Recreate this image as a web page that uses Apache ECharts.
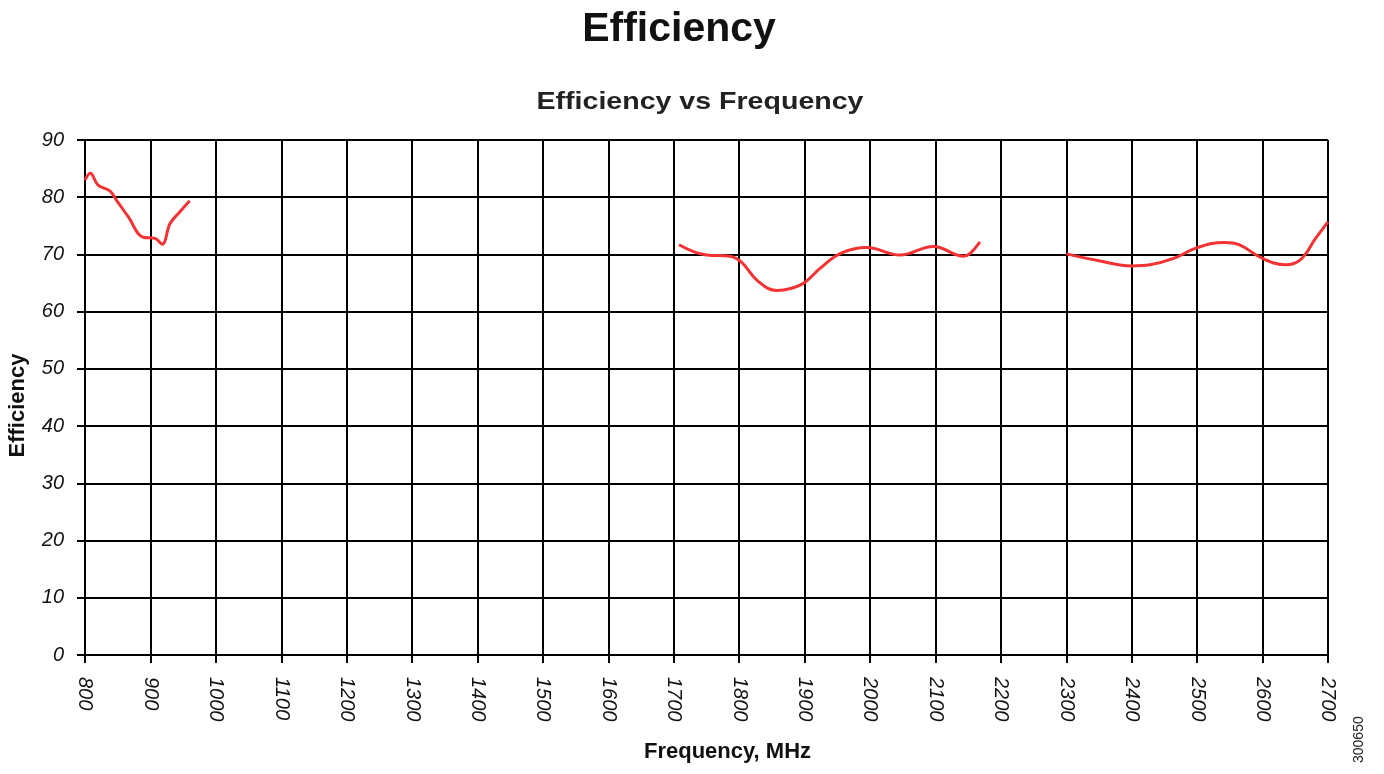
<!DOCTYPE html>
<html><head><meta charset="utf-8">
<script src="https://cdn.jsdelivr.net/npm/echarts@6/dist/echarts.min.js"></script>
<style>html,body{margin:0;padding:0;background:#fff}#c{width:1384px;height:774px}</style>
</head><body><div id="c"></div>
<script>
var title = "Efficiency";
var subtitle = "Efficiency vs Frequency";
var xName = "Frequency, MHz";
var yName = "Efficiency";
var docId = "300650";

var band1Freq = [800, 808, 820, 838, 848, 866, 889, 907, 918, 930, 943, 960];
var band1Eff  = [83.0, 84.2, 82.1, 81.1, 79.5, 76.6, 73.0, 72.8, 71.8, 75.4, 77.2, 79.4];

var band2Freq = [1708, 1730, 1750, 1786, 1803, 1829, 1857, 1880, 1900, 1924, 1955, 1995, 2046, 2097, 2143, 2153, 2168];
var band2Eff  = [71.7, 70.5, 69.9, 69.7, 68.7, 65.3, 63.7, 64.1, 65.1, 67.6, 70.2, 71.2, 69.9, 71.4, 69.7, 70.2, 72.2];

var band3Freq = [2300, 2350, 2400, 2428, 2464, 2500, 2541, 2564, 2600, 2635, 2658, 2681, 2700];
var band3Eff  = [70.1, 68.9, 68.0, 68.2, 69.3, 71.2, 72.1, 71.7, 69.3, 68.2, 69.1, 72.8, 75.7];

function pairs(xs, ys){ return xs.map(function(x,i){return [x, ys[i]];}); }

var lineStyle = {color:'#f33333', width:3};
function mk(xs, ys){
  return {type:'line', data:pairs(xs,ys), smooth:0.4, showSymbol:false, lineStyle:lineStyle, itemStyle:{color:'#f33333'}};
}

var chart = echarts.init(document.getElementById('c'));
chart.setOption({
  animation:false,
  backgroundColor:'#fff',
  grid:{left:85, right:56, top:140, bottom:119, show:false, outerBoundsMode:'none', containLabel:false},
  xAxis:{type:'value', min:800, max:2700, interval:100,
    name:xName, nameLocation:'middle', nameGap:86,
    nameTextStyle:{fontFamily:'Liberation Sans', fontSize:22, fontWeight:'bold', color:'#111', padding:[0,0,0,42]},
    axisLine:{show:true, onZero:false, lineStyle:{color:'#000', width:2}},
    axisTick:{show:true, length:8, lineStyle:{color:'#000', width:2}},
    axisLabel:{rotate:-90, margin:22, fontFamily:'Liberation Sans', fontStyle:'italic', fontSize:20, color:'#111',
      formatter:function(v){return String(v);}},
    splitLine:{show:true, lineStyle:{color:'#000', width:2}}
  },
  yAxis:{type:'value', min:0, max:90, interval:10,
    name:yName, nameLocation:'middle', nameGap:56,
    nameTextStyle:{fontFamily:'Liberation Sans', fontSize:22, fontWeight:'bold', color:'#111', padding:[0,16,0,0]},
    axisLine:{show:true, lineStyle:{color:'#000', width:2}},
    axisTick:{show:true, length:8, lineStyle:{color:'#000', width:2}},
    axisLabel:{margin:21, fontFamily:'Liberation Sans', fontStyle:'italic', fontSize:20, color:'#111'},
    splitLine:{show:true, lineStyle:{color:'#000', width:2}}
  },
  series:[mk(band1Freq,band1Eff), mk(band2Freq,band2Eff), mk(band3Freq,band3Eff)],
  graphic:[
    {type:'text', x:679, y:9, style:{text:title, textAlign:'center', textVerticalAlign:'top', fontFamily:'Liberation Sans', fontSize:41, fontWeight:'bold', fill:'#111'}},
    {type:'text', x:700, y:90, scaleX:1.19, style:{text:subtitle, textAlign:'center', textVerticalAlign:'top', fontFamily:'Liberation Sans', fontSize:24, fontWeight:'bold', fill:'#222'}},
    {type:'text', x:1352, y:763, rotation:Math.PI/2,
    style:{text:docId, fontFamily:'Liberation Sans', fontSize:14, fill:'#222'}}]
});
</script></body></html>
